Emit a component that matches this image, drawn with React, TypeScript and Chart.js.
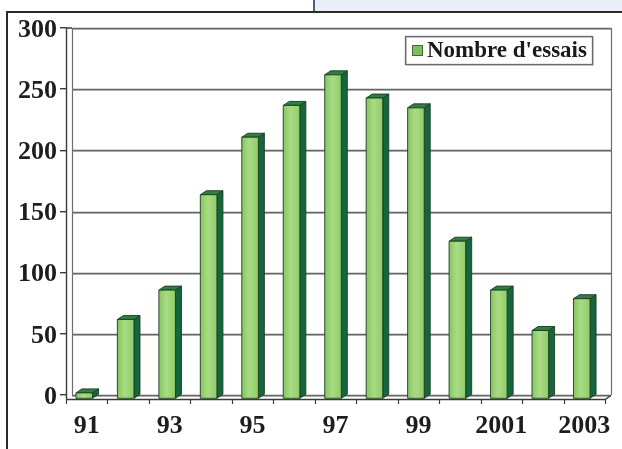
import React, { useEffect, useRef } from "react";
import { Chart, registerables } from "chart.js";

Chart.register(...registerables);

const categories = ["91", "92", "93", "94", "95", "96", "97", "98", "99", "2000", "2001", "2002", "2003"];
const essais = [5, 65, 89, 167, 214, 240, 265, 246, 238, 129, 89, 56, 82];
const seriesLabel = "Nombre d'essais";
const yMax = 300;
const yStep = 50;

const FONT = '"Liberation Serif", "Times New Roman", serif';
const DEPTH_X = 6;
const DEPTH_Y = 4;

// Back wall, gridlines, floor and axis lines of the pseudo-3D plot
const wallPlugin = {
  id: "wall",
  beforeDatasetsDraw(chart: any) {
    const { ctx } = chart;
    const xs = chart.scales.x;
    const ys = chart.scales.y;
    const left = xs.left;
    const right = xs.right;
    const backL = left + DEPTH_X;
    const backR = right + DEPTH_X;
    const top = ys.getPixelForValue(yMax);
    const zeroBack = ys.getPixelForValue(0);
    const zeroFront = zeroBack + DEPTH_Y;
    ctx.save();
    // gridlines on the back wall
    for (let v = 0; v <= yMax; v += yStep) {
      const y = Math.round(ys.getPixelForValue(v)) + 0.5;
      ctx.strokeStyle = "#c4c4c4";
      ctx.lineWidth = 1;
      ctx.beginPath();
      ctx.moveTo(backL, y + 1);
      ctx.lineTo(backR, y + 1);
      ctx.stroke();
      ctx.strokeStyle = "#666666";
      ctx.lineWidth = 1.3;
      ctx.beginPath();
      ctx.moveTo(backL, y);
      ctx.lineTo(backR, y);
      ctx.stroke();
    }
    ctx.strokeStyle = "#6e6e6e";
    ctx.lineWidth = 1.2;
    // back wall side edges
    ctx.beginPath();
    ctx.moveTo(backL + 0.5, top);
    ctx.lineTo(backL + 0.5, zeroBack);
    ctx.moveTo(backR + 0.5, top);
    ctx.lineTo(backR + 0.5, zeroBack);
    ctx.stroke();
    // front value axis
    ctx.strokeStyle = "#3a3a3a";
    ctx.lineWidth = 1.4;
    ctx.beginPath();
    ctx.moveTo(left + 0.5, top);
    ctx.lineTo(left + 0.5, zeroFront);
    ctx.moveTo(left, top);
    ctx.lineTo(backL, top);
    ctx.stroke();
    // floor front edge and right side
    ctx.beginPath();
    ctx.moveTo(left, zeroFront + 0.5);
    ctx.lineTo(right, zeroFront + 0.5);
    ctx.lineTo(backR, zeroBack + 0.5);
    ctx.stroke();
    // category tick marks
    const n = categories.length;
    const step = (right - left) / n;
    ctx.lineWidth = 1.2;
    ctx.beginPath();
    for (let i = 0; i <= n; i++) {
      const x = Math.round(left + i * step) + 0.5;
      ctx.moveTo(x, zeroFront);
      ctx.lineTo(x, zeroFront + 5);
    }
    ctx.stroke();
    ctx.restore();
  },
  afterDatasetsDraw(chart: any) {
    const { ctx } = chart;
    const meta = chart.getDatasetMeta(0);
    meta.data.forEach((bar: any) => {
      const p = bar.getProps(["x", "y", "base", "width"], true);
      const w = p.width;
      const x0 = p.x - w / 2 - DEPTH_X / 2 + 0.5;
      const x1 = x0 + w;
      const yt = p.y + DEPTH_Y;
      const yb = p.base + DEPTH_Y;
      ctx.save();
      ctx.lineJoin = "round";
      ctx.strokeStyle = "#1d3b22";
      ctx.lineWidth = 0.9;
      // side face
      ctx.fillStyle = "#14663c";
      ctx.beginPath();
      ctx.moveTo(x1, yt);
      ctx.lineTo(x1 + DEPTH_X, yt - DEPTH_Y);
      ctx.lineTo(x1 + DEPTH_X, yb - DEPTH_Y);
      ctx.lineTo(x1, yb);
      ctx.closePath();
      ctx.fill();
      ctx.stroke();
      // top face
      ctx.fillStyle = "#2f7f45";
      ctx.beginPath();
      ctx.moveTo(x0, yt);
      ctx.lineTo(x0 + DEPTH_X, yt - DEPTH_Y);
      ctx.lineTo(x1 + DEPTH_X, yt - DEPTH_Y);
      ctx.lineTo(x1, yt);
      ctx.closePath();
      ctx.fill();
      ctx.stroke();
      // front face
      const g = ctx.createLinearGradient(x0, 0, x1, 0);
      g.addColorStop(0, "#86c563");
      g.addColorStop(0.45, "#a9dc82");
      g.addColorStop(1, "#8fcc6a");
      ctx.fillStyle = g;
      ctx.beginPath();
      ctx.rect(x0, yt, w, yb - yt);
      ctx.fill();
      ctx.stroke();
      ctx.restore();
    });
  },
  afterDraw(chart: any) {
    // boxed legend in the upper right of the plot
    const { ctx } = chart;
    const label = chart.data.datasets[0].label;
    const bx = 405;
    const by = 36;
    const bw = 187;
    const bh = 28;
    ctx.save();
    ctx.fillStyle = "#ffffff";
    ctx.fillRect(bx, by, bw, bh);
    ctx.strokeStyle = "#d0d0d0";
    ctx.lineWidth = 1;
    ctx.strokeRect(bx + 1.5, by + 1.5, bw, bh);
    ctx.strokeStyle = "#6a6a6a";
    ctx.lineWidth = 1.3;
    ctx.strokeRect(bx + 0.5, by + 0.5, bw, bh);
    ctx.fillStyle = "#7fbe5e";
    ctx.fillRect(bx + 7, by + 9, 11, 11);
    ctx.strokeStyle = "#3f6b35";
    ctx.lineWidth = 1;
    ctx.strokeRect(bx + 7.5, by + 9.5, 10, 10);
    ctx.fillStyle = "#1a1a1a";
    ctx.font = `bold 23px ${FONT}`;
    ctx.textBaseline = "middle";
    ctx.textAlign = "left";
    ctx.fillText(label, bx + 22, by + bh / 2 + 1);
    ctx.restore();
  },
};

export default function App() {
  const canvasRef = useRef<HTMLCanvasElement | null>(null);

  useEffect(() => {
    if (!canvasRef.current) return;
    const tickFont = { family: FONT, size: 26, weight: "bold" as const };
    const chart = new Chart(canvasRef.current, {
      type: "bar",
      data: {
        labels: categories,
        datasets: [
          {
            label: seriesLabel,
            data: essais,
            backgroundColor: "rgba(0,0,0,0)",
            borderWidth: 0,
            categoryPercentage: 1,
            barPercentage: 0.4,
          },
        ],
      },
      plugins: [wallPlugin],
      options: {
        animation: false,
        responsive: false,
        events: [],
        layout: { padding: { left: 0, right: 17, top: 28, bottom: 0 } },
        plugins: { legend: { display: false }, tooltip: { enabled: false } },
        scales: {
          x: {
            offset: true,
            grid: { display: false },
            border: { display: false },
            ticks: {
              autoSkip: false,
              maxRotation: 0,
              padding: 8,
              color: "#1e1e1e",
              font: tickFont,
              callback: (_v: any, i: number) => (i % 2 === 0 ? categories[i] : ""),
            },
            afterFit: (s: any) => {
              s.height = 54;
            },
          },
          y: {
            min: 0,
            max: yMax,
            ticks: { stepSize: yStep, padding: 3, labelOffset: 2, color: "#1e1e1e", font: tickFont },
            grid: { drawOnChartArea: false, drawTicks: true, tickLength: 6, color: "#3a3a3a", lineWidth: 1.4 },
            border: { display: false },
            afterFit: (s: any) => {
              s.width = 66;
            },
          },
        },
      },
    });
    return () => chart.destroy();
  }, []);

  return (
    <div
      style={{
        position: "absolute",
        left: 0,
        top: 0,
        width: 622,
        height: 449,
        overflow: "hidden",
        background: "#ffffff",
      }}
    >
      <div
        style={{
          position: "absolute",
          left: 313,
          top: -2,
          width: 320,
          height: 13,
          background: "#e8eff8",
          borderLeft: "2px solid #4a6272",
        }}
      />
      <div
        style={{
          position: "absolute",
          left: 6,
          top: 11,
          width: 640,
          height: 460,
          border: "2px solid #2a2a2a",
          boxSizing: "border-box",
        }}
      />
      <canvas ref={canvasRef} width={622} height={449} style={{ position: "absolute", left: 0, top: 0 }} />
    </div>
  );
}
